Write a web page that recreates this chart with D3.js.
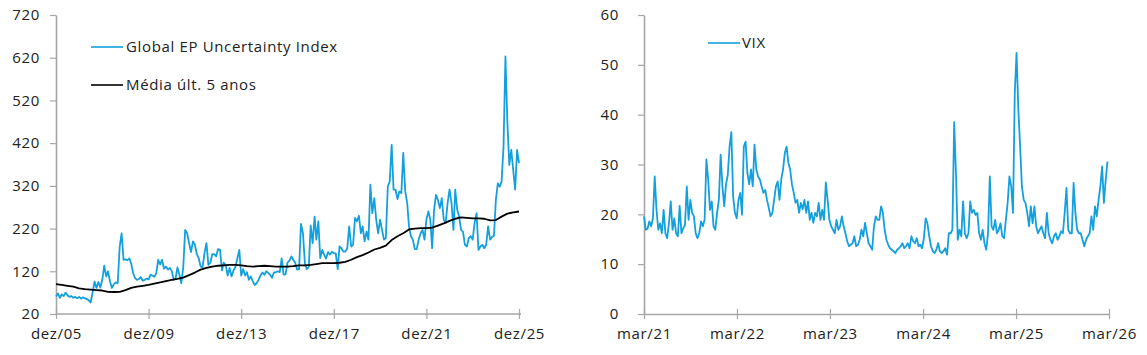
<!DOCTYPE html>
<html>
<head>
<meta charset="utf-8">
<script src="https://cdn.jsdelivr.net/npm/d3@7"></script>
<style>
  html, body { margin: 0; padding: 0; background: #fff; }
  svg { display: block; }
  text { font-family: "Open Sans", "Noto Sans", sans-serif; font-size: 15px; fill: #222; letter-spacing: 0.65px; }
</style>
</head>
<body>
<svg id="chart" width="1147" height="355"></svg>
<script>
// ---------- DATA ----------
// Global EPU Uncertainty Index, monthly from dez/2005 to dez/2025
const epuStart = [2005, 11];
const epuValues = [
  61,68,58,66,62,70,64,60,62,58,60,57,60,56,59,57,55,52,47,70,
  96,81,95,82,100,133,108,120,96,81,90,94,92,178,209,147,148,146,150,138,
  116,104,100,102,106,98,100,103,101,112,110,107,115,147,136,147,126,131,124,128,
  121,100,104,129,112,92,130,217,209,186,165,190,182,160,150,131,130,163,186,135,
  140,160,160,155,172,170,122,140,135,110,128,108,122,130,150,170,110,125,110,118,
  100,108,97,88,92,100,110,117,112,120,116,112,105,117,118,120,118,150,112,113,
  140,145,155,147,140,124,125,231,209,139,125,130,227,186,248,194,237,151,170,159,
  150,165,159,166,162,162,125,178,174,166,166,174,225,178,182,245,237,250,209,225,
  190,213,194,323,256,291,241,209,241,217,194,198,319,330,416,311,311,289,307,303,
  397,307,280,225,202,194,172,172,194,209,217,194,241,260,241,174,264,299,287,268,
  291,241,233,280,311,280,217,311,264,248,217,213,182,178,198,202,194,234,256,170,
  178,182,174,182,225,194,200,203,287,326,318,330,412,623,467,369,404,357,311,404,
  373
];
// Média últ. 5 anos, quarterly from dez/2005
const avgValues = [
  90,88,86,84,80,78,77,76,75,72,71.5,72,76,81,84,86,88,91,94,97,
  100,102,105,111,117,124,128,131,133,134,135,135,134,132,131,132,133,132,131,131,
  131,132,134,134,135,137,139,139,139,140,142,147,153,158,164,171,175,180,193,202,
  209,218,220,221,221,222,227,232,238,243,246,245,244,244,243,239,240,248,255,258,
  260
];
const leftTickYears = [2005, 2009, 2013, 2017, 2021, 2025];
const leftYTicks = [20, 120, 220, 320, 420, 520, 620, 720];
const leftLegend = ["Global EP Uncertainty Index", "Média últ. 5 anos"];

// VIX, weekly from 31/mar/2021
const vixStart = [2021, 2, 31];
const vixValues = [
  19.6,16.9,17.1,18.6,17.6,19.2,27.6,21.0,16.9,18.2,16.2,20.9,16.2,15.2,18.2,22.6,16.9,19.2,16.2,15.6,
  21.7,16.2,17.2,17.9,25.6,18.9,22.9,20.3,19.6,16.2,15.2,16.2,18.6,17.6,18.9,31.0,27.0,20.9,22.6,17.6,
  16.9,20.3,22.9,32.0,25.6,21.6,26.0,27.9,33.6,36.5,23.6,20.3,19.2,22.9,24.3,19.9,33.6,34.6,28.3,26.0,
  29.0,25.6,34.0,29.0,27.6,27.0,25.6,24.3,24.9,22.9,21.3,19.6,20.3,22.9,25.6,26.6,22.9,27.0,29.0,32.3,
  33.6,30.3,29.0,26.0,24.3,22.3,22.9,20.3,22.3,21.0,22.9,20.3,22.6,18.9,20.3,18.3,20.3,19.6,22.3,18.9,
  20.9,18.9,26.4,22.9,18.9,17.6,16.9,16.2,18.9,16.9,17.6,19.6,17.6,16.2,14.6,13.6,13.9,14.2,15.6,13.6,
  13.9,14.9,16.9,15.6,18.3,16.2,14.2,13.6,12.9,17.6,19.6,18.9,18.9,21.6,20.3,16.9,14.9,13.9,13.2,12.9,
  12.6,12.2,12.9,13.2,13.6,14.2,13.2,13.6,14.2,13.2,15.6,14.6,14.2,15.2,13.6,13.9,13.2,15.2,19.2,18.2,
  15.6,13.6,12.6,12.2,12.9,14.2,12.6,12.2,12.6,13.2,11.9,16.2,16.2,16.9,38.5,28.3,14.9,16.9,15.6,22.6,
  16.2,15.2,16.2,22.6,20.3,20.9,19.9,20.3,16.2,14.9,16.9,14.2,12.9,16.2,27.6,17.6,16.9,18.9,16.2,16.9,
  18.2,15.6,15.2,18.9,22.3,27.6,25.6,20.3,44.4,52.4,41.0,33.6,25.6,22.9,22.3,20.3,17.6,21.6,18.2,21.6,
  17.6,16.2,16.9,17.6,16.2,15.2,20.3,16.2,14.9,14.2,15.6,16.2,14.9,15.6,16.6,16.2,20.3,25.3,16.9,16.2,
  16.2,26.3,20.3,16.9,16.2,16.2,14.9,13.6,14.9,15.6,16.2,19.6,16.9,21.6,19.6,22.9,25.6,29.6,22.3,26.9,
  30.6
];
const rightTickYears = [2021, 2022, 2023, 2024, 2025, 2026];
const rightYTicks = [0, 10, 20, 30, 40, 50, 60];
const rightLegend = ["VIX"];

// ---------- DRAW ----------
const BLUE = "#13a0dc";
const AXIS = "#a6a6a6";
const svg = d3.select("#chart");

const epu = epuValues.map((v, i) => ({ d: d3.timeMonth.offset(new Date(epuStart[0], epuStart[1], 1), i), v }));
const avg = avgValues.map((v, i) => ({ d: d3.timeMonth.offset(new Date(epuStart[0], epuStart[1], 1), 3 * i), v }));
const vix = vixValues.map((v, i) => ({ d: d3.timeDay.offset(new Date(vixStart[0], vixStart[1], vixStart[2]), 7 * i), v }));

function styleAxis(g) {
  g.selectAll(".domain").attr("stroke", AXIS).attr("stroke-width", 1.6);
  g.selectAll(".tick line").attr("stroke", AXIS).attr("stroke-width", 1.2);
}

// ---- Left chart ----
const xL = d3.scaleTime().domain([new Date(2005, 11, 1), new Date(2025, 11, 1)]).range([56, 519]);
const yL = d3.scaleLinear().domain([20, 720]).range([314, 15]);

const gyL = svg.append("g").attr("transform", "translate(56,0)")
  .call(d3.axisLeft(yL).tickValues(leftYTicks).tickSize(6).tickPadding(10).tickSizeOuter(0));
styleAxis(gyL);

const gxL = svg.append("g").attr("transform", "translate(0,314)")
  .call(d3.axisBottom(xL).tickValues(leftTickYears.map(y => new Date(y, 11, 1)))
    .tickFormat(d => "dez/" + String(d.getFullYear()).slice(2)).tickSize(5).tickPadding(9).tickSizeOuter(0));
styleAxis(gxL);
gxL.selectAll(".tick line").attr("y1", -5);
gxL.select(".domain").attr("d", `M${xL.range()[0]},0H${xL.range()[1] + 2}`);

svg.append("path").datum(epu)
  .attr("fill", "none").attr("stroke", BLUE).attr("stroke-width", 1.8).attr("stroke-linejoin", "round")
  .attr("d", d3.line().x(d => xL(d.d)).y(d => yL(d.v)));
svg.append("path").datum(avg)
  .attr("fill", "none").attr("stroke", "#000").attr("stroke-width", 1.8).attr("stroke-linejoin", "round")
  .attr("d", d3.line().x(d => xL(d.d)).y(d => yL(d.v)));

// ---- Right chart ----
const xR = d3.scaleTime().domain([new Date(2021, 2, 31), new Date(2026, 2, 31)]).range([644, 1109]);
const yR = d3.scaleLinear().domain([0, 60]).range([314, 15]);

const gyR = svg.append("g").attr("transform", "translate(644,0)")
  .call(d3.axisLeft(yR).tickValues(rightYTicks).tickSize(6).tickPadding(19).tickSizeOuter(0));
styleAxis(gyR);

const gxR = svg.append("g").attr("transform", "translate(0,314)")
  .call(d3.axisBottom(xR).tickValues(rightTickYears.map(y => new Date(y, 2, 31)))
    .tickFormat(d => "mar/" + String(d.getFullYear()).slice(2)).tickSize(5).tickPadding(9).tickSizeOuter(0));
styleAxis(gxR);
gxR.selectAll(".tick line").attr("y1", -5);

svg.append("path").datum(vix)
  .attr("fill", "none").attr("stroke", BLUE).attr("stroke-width", 1.8).attr("stroke-linejoin", "round")
  .attr("d", d3.line().x(d => xR(d.d)).y(d => yR(d.v)));

// tick label fonts
svg.selectAll(".tick text").attr("font-family", null).attr("font-size", null).style("fill", "#222");

// ---- Legends ----
const legL = [{ t: leftLegend[0], c: BLUE, y: 47 }, { t: leftLegend[1], c: "#000", y: 85 }];
legL.forEach(l => {
  svg.append("line").attr("x1", 91).attr("x2", 123).attr("y1", l.y).attr("y2", l.y).attr("stroke", l.c).attr("stroke-width", 1.6);
  svg.append("text").attr("x", 126).attr("y", l.y).attr("dy", "0.35em").text(l.t);
});
svg.append("line").attr("x1", 708).attr("x2", 740).attr("y1", 43).attr("y2", 43).attr("stroke", BLUE).attr("stroke-width", 1.6);
svg.append("text").attr("x", 742).attr("y", 43).attr("dy", "0.35em").text(rightLegend[0]);
</script>
</body>
</html>
